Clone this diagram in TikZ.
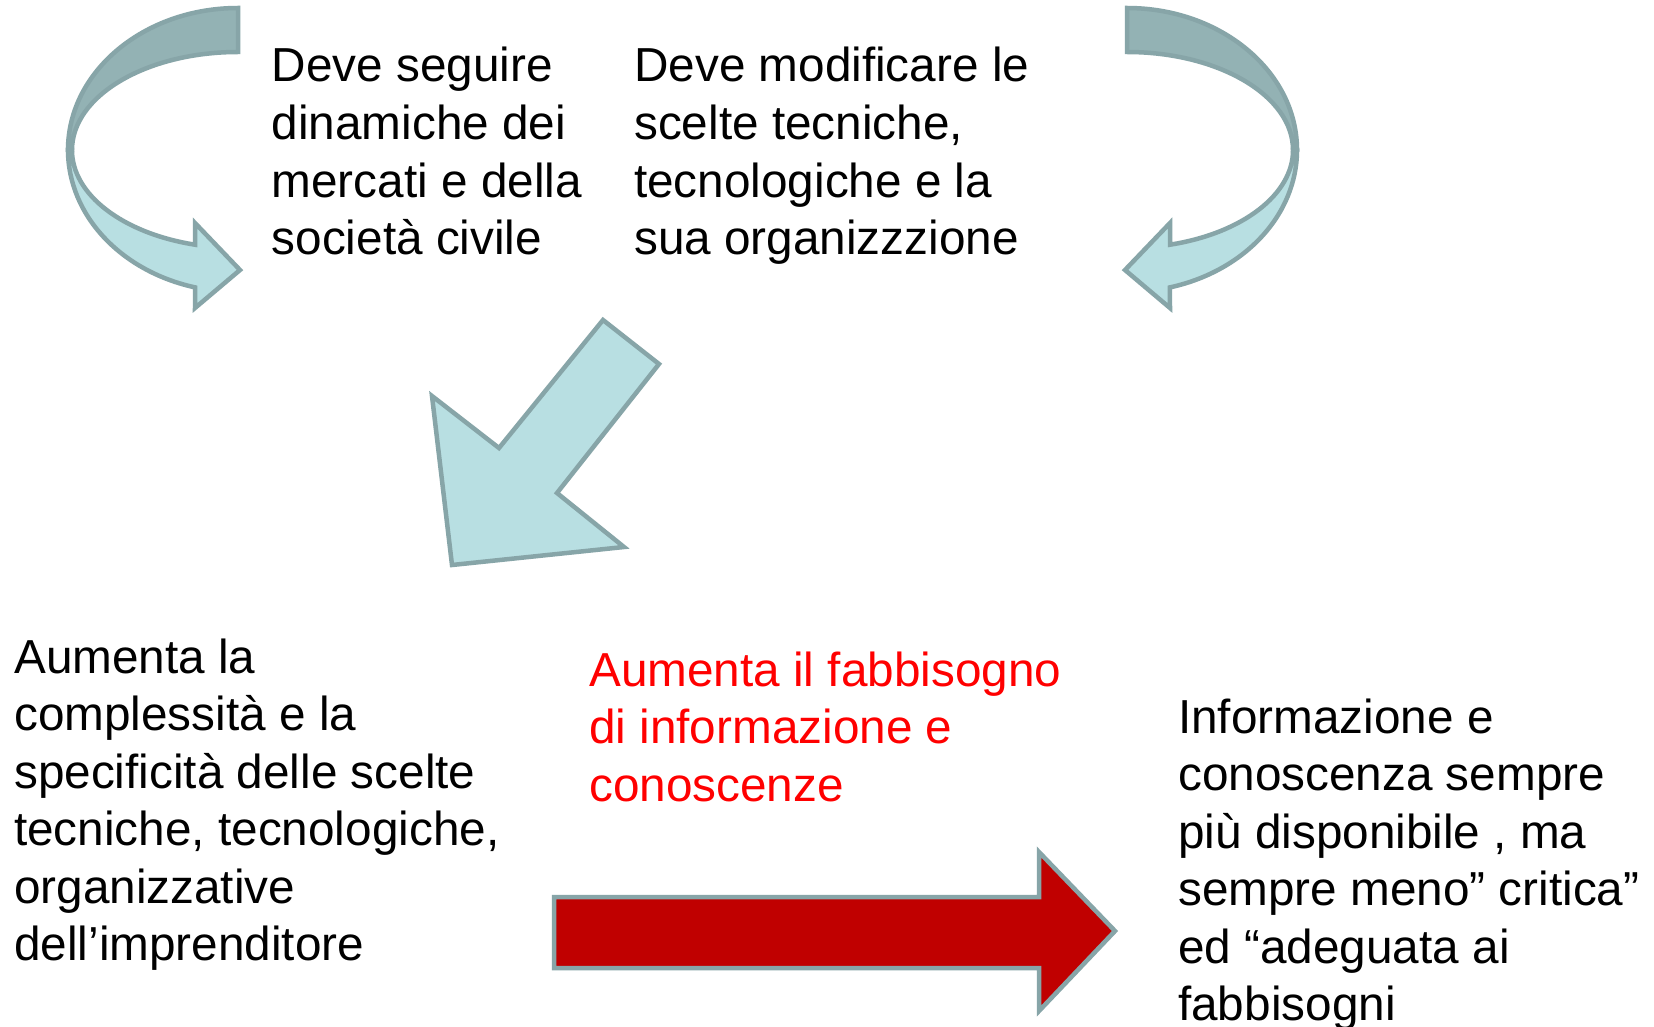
\documentclass[tikz,border=0pt]{standalone}
\usepackage{fontspec}
\setmainfont{Liberation Sans}
\definecolor{bandDark}{HTML}{93B2B4}
\definecolor{bandLight}{HTML}{B8DFE2}
\definecolor{edgecol}{HTML}{87A5A8}
\definecolor{arrowred}{HTML}{C00000}
\definecolor{brightred}{HTML}{FF0000}
\begin{document}
\begin{tikzpicture}[x=1pt,y=-1pt,
  arrowshape/.style={draw=edgecol, line width=4.5pt, line join=miter},
  txt/.style={anchor=base west, inner sep=0pt, align=left, font=\fontsize{47.7}{57.5}\selectfont}]
\useasboundingbox[fill=white] (0,0) rectangle (1654,1027);

% left curved arrow
\path[arrowshape, fill=bandDark] (238,8) arc[start angle=-90, end angle=-180, x radius=170, y radius=142]
  -- (72,150) arc[start angle=-180, end angle=-90, x radius=166, y radius=98] -- cycle;
\path[arrowshape, fill=bandLight] (68,150) arc[start angle=180, end angle=104.6, x radius=170, y radius=142]
  -- (195,308) -- (240,270) -- (195,223) -- (195,244.7)
  arc[start angle=105, end angle=180, x radius=166, y radius=98] -- cycle;

% right curved arrow
\path[arrowshape, fill=bandDark] (1127,8) arc[start angle=-90, end angle=0, x radius=170, y radius=142]
  -- (1293,150) arc[start angle=0, end angle=-90, x radius=166, y radius=98] -- cycle;
\path[arrowshape, fill=bandLight] (1297,150) arc[start angle=0, end angle=75.4, x radius=170, y radius=142]
  -- (1170,308) -- (1125,270) -- (1170,223) -- (1170,244.7)
  arc[start angle=75, end angle=0, x radius=166, y radius=98] -- cycle;

% diagonal arrow
\path[arrowshape, fill=bandLight] (603,320) -- (659,364) -- (557,493) -- (624,547) -- (452,565) -- (432,396) -- (499,448) -- cycle;

% red arrow
\path[arrowshape, fill=arrowred] (554,897) -- (1039,897) -- (1039,852) -- (1115,931) -- (1039,1011) -- (1039,968) -- (554,968) -- cycle;

% texts (anchored at the baseline of the last line)
\node[txt] (t1) at (271.5,254.5) {Deve seguire\\dinamiche dei\\mercati e della\\società civile};
\node[txt] (t2) at (634,254.5) {Deve modificare le\\scelte tecniche,\\tecnologiche e la\\sua organizzzione};
\node[txt] (t3) at (14,960.5) {Aumenta la\\complessità e la\\specificità delle scelte\\tecniche, tecnologiche,\\organizzative\\dell’imprenditore};
\node[txt, text=brightred] (t4) at (589,801) {Aumenta il fabbisogno\\di informazione e\\conoscenze};
\node[txt] (t5) at (1178,1020.5) {Informazione e\\conoscenza sempre\\più disponibile , ma\\sempre meno” critica”\\ed “adeguata ai\\fabbisogni};
\end{tikzpicture}
\end{document}
